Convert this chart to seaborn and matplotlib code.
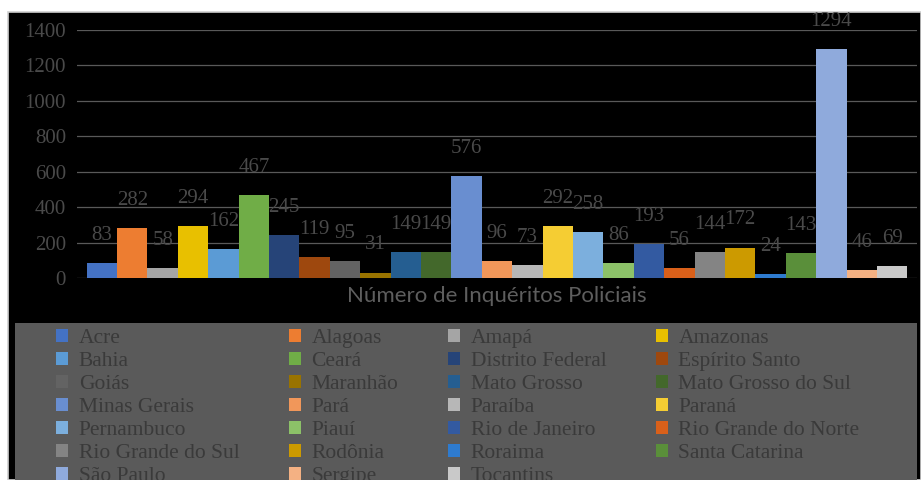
import matplotlib
matplotlib.use("Agg")
import matplotlib.pyplot as plt
from matplotlib.patches import Rectangle
import seaborn as sns
import pandas as pd

# Inquéritos policiais por unidade da federação
estados = [
    "Acre", "Alagoas", "Amapá", "Amazonas", "Bahia", "Ceará", "Distrito Federal",
    "Espírito Santo", "Goiás", "Maranhão", "Mato Grosso", "Mato Grosso do Sul",
    "Minas Gerais", "Pará", "Paraíba", "Paraná", "Pernambuco", "Piauí",
    "Rio de Janeiro", "Rio Grande do Norte", "Rio Grande do Sul", "Rodônia",
    "Roraima", "Santa Catarina", "São Paulo", "Sergipe", "Tocantins",
]
inqueritos = [83, 282, 58, 294, 162, 467, 245, 119, 95, 31, 149, 149,
              576, 96, 73, 292, 258, 86, 193, 56, 144, 172, 24, 143,
              1294, 46, 69]
categoria = "Número de Inquéritos Policiais"
yticks = [0, 200, 400, 600, 800, 1000, 1200, 1400]

cores = [
    "#4472C4", "#ED7D31", "#A5A5A5", "#E8C000", "#5B9BD5", "#70AD47", "#264478",
    "#9E480E", "#636363", "#997300", "#255E91", "#43682B", "#698ED0", "#F1975A",
    "#B7B7B7", "#F5CD33", "#7CAFDD", "#8CC168", "#335AA1", "#D9601A", "#848484",
    "#CC9A00", "#2E7BCF", "#5A8F3A", "#8FAADC", "#F4B183", "#C9C9C9",
]

df = pd.DataFrame({"indicador": [categoria] * len(estados),
                   "estado": estados, "valor": inqueritos})

W, H = 921, 480
fig = plt.figure(figsize=(W / 100, H / 100), dpi=100)
fig.patch.set_facecolor("white")

# black chart area and grey legend panel
fig.patches.append(Rectangle((8 / W, 0), 1 - 8 / W, (H - 12) / H,
                             transform=fig.transFigure, facecolor="black",
                             edgecolor="#cfcfcf", lw=1.2, zorder=-5))
fig.patches.append(Rectangle((15 / W, 0), 902 / W, (H - 323) / H,
                             transform=fig.transFigure, facecolor="#5a5a5a",
                             edgecolor="none", zorder=-4))

ax = fig.add_axes([77 / W, (H - 278) / H, 840 / W, 248 / H])
ax.set_facecolor("black")
ax.set_zorder(2)

sns.barplot(data=df, x="indicador", y="valor", hue="estado",
            hue_order=estados, palette=cores, width=0.977, gap=0,
            dodge=True, ax=ax, saturation=1, legend=True)

serif = "Liberation Serif"
texto = "#4a4a4a"
for cont in ax.containers:
    ax.bar_label(cont, fmt="%d", padding=13, color=texto,
                 fontsize=15, family=serif, clip_on=False)

ax.set_ylim(0, 1400)
ax.set_yticks(yticks)
ax.set_yticklabels([str(t) for t in yticks], family=serif, fontsize=15,
                   color=texto)
ax.grid(axis="y", color="#595959", lw=0.9)
ax.set_axisbelow(True)
for s in ax.spines.values():
    s.set_visible(False)
ax.tick_params(axis="both", length=0)
ax.tick_params(axis="y", pad=8)
ax.tick_params(axis="x", pad=6)
for lbl in ax.get_xticklabels():
    lbl.set_family("Lato")
    lbl.set_fontsize(16)
    lbl.set_color("#5e5e5e")
ax.set_xlabel("")
ax.set_ylabel("")

handles, labels = ax.get_legend_handles_labels()
ax.get_legend().remove()
ordem = [i for c in range(4) for i in range(c, len(estados), 4)]
leg = fig.legend([handles[i] for i in ordem], [labels[i] for i in ordem],
                 ncol=4, loc="upper left", bbox_to_anchor=(41 / W, (H - 314) / H),
                 frameon=False, prop={"family": serif, "size": 15.5},
                 handlelength=0.55, handleheight=0.55, handletextpad=0.5,
                 columnspacing=2.3, labelspacing=0.18, borderpad=0.2)
for t in leg.get_texts():
    t.set_color("#3a3a3a")
leg.set_zorder(5)

fig.savefig("out.png", dpi=100, facecolor=fig.get_facecolor())
